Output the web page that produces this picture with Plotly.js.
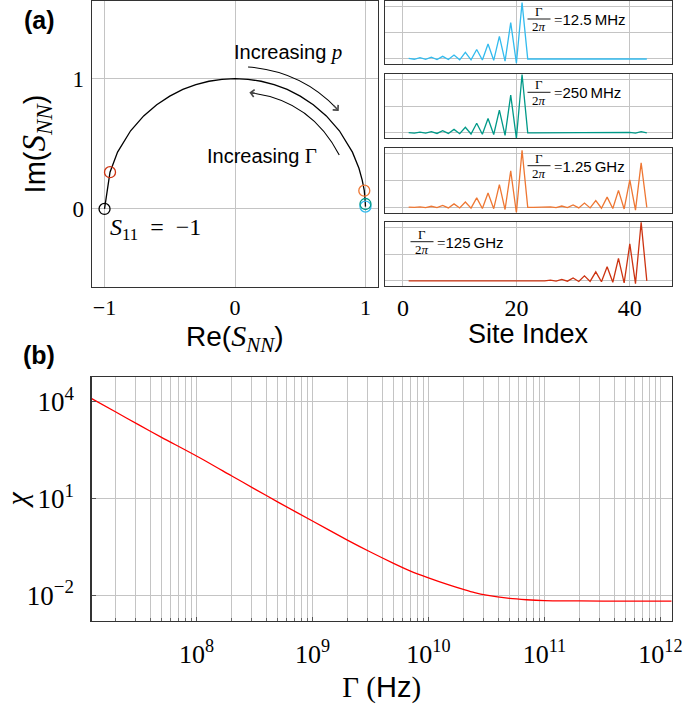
<!DOCTYPE html>
<html><head><meta charset="utf-8">
<script src="https://cdn.plot.ly/plotly-3.0.1.min.js"></script>
<style>html,body{margin:0;padding:0;background:#fff}#chart{width:685px;height:706px}</style>
</head><body><div id="chart"></div>
<script>
// ---------------- data ----------------
// (a) left: reflection coefficient trajectory in the complex plane
const arcRe = [-1.0, -0.958, -0.9, -0.8, -0.7, -0.6, -0.5, -0.4, -0.3, -0.2, -0.1, 0.0, 0.1, 0.2, 0.3, 0.4, 0.5, 0.6, 0.7, 0.8, 0.9, 0.95, 0.975, 0.991, 0.999, 1.0];
const arcIm = [0.0, 0.282, 0.436, 0.6, 0.714, 0.8, 0.866, 0.917, 0.954, 0.98, 0.995, 1.0, 0.995, 0.98, 0.954, 0.917, 0.866, 0.8, 0.714, 0.6, 0.436, 0.312, 0.222, 0.14, 0.04, 0.018];
const pointRe = [-1.0, -0.958, 0.991, 1.0, 1.0];
const pointIm = [0.0, 0.282, 0.14, 0.018, 0.038];
const pointColors = ['#000000', '#CC3311', '#EE7733', '#33BBEE', '#009988'];

// (a) right: site profiles
const siteIndex = [1,2,3,4,5,6,7,8,9,10,11,12,13,14,15,16,17,18,19,20,21,22,23,24,25,26,27,28,29,30,31,32,33,34,35,36,37,38,39,40,41,42,43];
const panelLabels = ['12.5\u2009MHz', '250\u2009MHz', '1.25\u2009GHz', '125\u2009GHz'];
const panelColors = ['#33BBEE', '#009988', '#EE7733', '#CC3311'];
const amp12p5MHz = [0.02,-0.01,0.05,-0.01,0.07,-0.02,0.10,-0.02,0.15,-0.03,0.25,-0.03,0.36,-0.04,0.57,-0.05,0.86,-0.08,1.38,-0.16,2.14,
  0,0,0,0,0,0,0,0,0,0,0,0,0,0,0,0,0,0,0,0,0,0];
const amp250MHz = [0.01,-0.01,0.03,-0.01,0.05,-0.02,0.08,-0.02,0.13,-0.03,0.21,-0.04,0.36,-0.05,0.54,-0.06,0.85,-0.09,1.41,-0.20,2.18,
  0,0,0,0,0,0,0,0,0,0,0,0,0,0,0,0,0,0.01,0.02,-0.01,0.05,0];
const amp1p25GHz = [0.01,0.00,0.02,-0.01,0.04,-0.01,0.07,-0.02,0.13,-0.02,0.20,-0.03,0.35,-0.04,0.53,-0.05,0.84,-0.08,1.35,-0.20,2.11,
  0,0,0.01,0,0.02,-0.01,0.05,-0.01,0.09,-0.02,0.16,-0.02,0.25,-0.03,0.38,-0.04,0.63,-0.06,1.02,-0.10,1.65,0];
const amp125GHz = [0,0,0,0,0,0,0,0,0,0,0,0,0,0,0,0,0,0,0,0,0,0,0,
  0.01,0,0.03,-0.01,0.06,-0.01,0.11,-0.02,0.19,-0.02,0.34,-0.03,0.53,-0.05,0.84,-0.07,1.38,-0.10,2.19,0];
const siteTicks = [0, 20, 40];

// (b): chi versus Gamma
const gammaHz = [1.25e7, 2e7, 3.16e7, 5e7, 1e8, 2e8, 3.16e8, 5e8, 1e9, 2e9, 3.16e9, 5e9, 7e9, 1e10, 1.5e10, 2e10, 2.5e10, 3.16e10, 5e10, 7e10, 1e11, 2e11, 5e11, 1.25e12];
const chi =     [12600, 4900, 1950, 790, 209, 51, 20, 7.9, 2.0, 0.513, 0.219, 0.0977, 0.0562, 0.0347, 0.0209, 0.0151, 0.0120, 0.0100, 0.00794, 0.00724, 0.00684, 0.00664, 0.0066, 0.0066];
const chiTickVals = [1e-2, 1e1, 1e4];
const chiTickText = ['10<sup>\u22122</sup>', '10<sup>1</sup>', '10<sup>4</sup>'];
const gammaDecades = [1e8, 1e9, 1e10, 1e11, 1e12];
const gammaDecadeText = ['10<sup>8</sup>', '10<sup>9</sup>', '10<sup>10</sup>', '10<sup>11</sup>', '10<sup>12</sup>'];
const gammaMantissas = [2, 3, 4, 5, 6, 7, 8, 9];

// ---------------- layout helpers ----------------
const W = 685, H = 706;
const fx = p => p / W;
const fy = p => 1 - p / H;
const SERIF = 'Liberation Serif';
const SANS = 'Liberation Sans';
const sansSpan = t => '<span style="font-family:' + SANS + '">' + t + '</span>';
const mathSpan = (t, s) => '<span style="font-family:' + SERIF + ';font-size:' + s + 'px">' + t + '</span>';

const frame = {showline: true, mirror: true, linecolor: '#333', linewidth: 1.4,
  showgrid: true, gridcolor: '#c4c4c4', gridwidth: 1, zeroline: false,
  tickfont: {family: SERIF, size: 23, color: '#000'}};

// minor gamma grid positions (unlabelled)
const gMinor = [];
[1e7].concat(gammaDecades).forEach(d => gammaMantissas.forEach(m => gMinor.push(d * m)));

const traces = [];
traces.push({x: arcRe, y: arcIm, xaxis: 'x', yaxis: 'y', mode: 'lines', line: {color: '#000', width: 1.3}, hoverinfo: 'skip'});
traces.push({x: pointRe, y: pointIm, xaxis: 'x', yaxis: 'y', mode: 'markers',
  marker: {symbol: 'circle-open', size: 11, color: pointColors, line: {width: 1.3, color: pointColors}}});
const amps = [amp12p5MHz, amp250MHz, amp1p25GHz, amp125GHz];
amps.forEach((a, i) => {
  traces.push({x: siteIndex, y: a, xaxis: 'x' + (i + 2), yaxis: 'y' + (i + 2), mode: 'lines',
    line: {color: panelColors[i], width: 1.3}});
});
traces.push({x: gammaHz, y: chi, xaxis: 'x6', yaxis: 'y6', mode: 'lines', line: {color: '#ff0000', width: 1.3, shape: 'spline', smoothing: 0.8}});

const layout = {
  width: W, height: H, margin: {l: 0, r: 0, t: 0, b: 0},
  paper_bgcolor: '#fff', plot_bgcolor: '#fff', showlegend: false,
  font: {family: SERIF, color: '#000'},
  xaxis: Object.assign({}, frame, {domain: [fx(92), fx(378)], range: [-1.096, 1.096], anchor: 'y',
    tickvals: [-1, 0, 1], ticks: '', tickfont: {family: SERIF, size: 22, color: '#000'}}),
  yaxis: Object.assign({}, frame, {domain: [fy(287), fy(1)], range: [-0.599, 1.596], anchor: 'x',
    tickvals: [0, 1], ticks: '', ticklabelstandoff: 2,
    title: {text: 'Im(' + mathSpan('<i>S</i><sub><i>NN</i></sub>', 33) + ')', font: {family: SANS, size: 29}, standoff: 18}}),
  xaxis6: Object.assign({}, frame, {type: 'log', domain: [fx(91.7), fx(671.7)],
    range: [Math.log10(1.25e7), Math.log10(1.25e12)], anchor: 'y6',
    tickmode: 'array', tickvals: gammaDecades, ticktext: gammaDecadeText, ticks: 'inside', ticklen: 4, tickcolor: '#555',
    ticklabelstandoff: 10, tickfont: {family: SERIF, size: 26, color: '#000'},
    minor: {tickmode: 'array', tickvals: gMinor, showgrid: true, gridcolor: '#c4c4c4', gridwidth: 1, ticks: 'inside', ticklen: 3, tickcolor: '#666'},
    title: {text: '\u0393 (' + sansSpan('Hz') + ')', font: {family: SERIF, size: 29}, standoff: 8}}),
  yaxis6: Object.assign({}, frame, {type: 'log', domain: [fy(620.7), fy(377.3)], range: [-2.79, 4.76], anchor: 'x6',
    tickmode: 'array', tickvals: chiTickVals, ticktext: chiTickText, ticks: 'inside', ticklen: 4, tickcolor: '#555',
    ticklabelstandoff: 11, tickfont: {family: SERIF, size: 27, color: '#000'},
    title: {text: '<i>\u03c7</i>', font: {family: SERIF, size: 30}, standoff: 9}}),
  annotations: [], shapes: []
};

const panelTops = [1, 74, 148, 222], panelBottoms = [64, 138, 212.5, 286];
for (let i = 0; i < 4; i++) {
  const n = i + 2;
  layout['xaxis' + n] = Object.assign({}, frame, {domain: [fx(385), fx(672)], range: [-3.17, 47.44], anchor: 'y' + n,
    tickvals: siteTicks, ticks: '', showticklabels: i === 3, tickfont: {family: SERIF, size: 24, color: '#000'}});
  layout['yaxis' + n] = Object.assign({}, frame, {domain: [fy(panelBottoms[i]), fy(panelTops[i])], range: [-0.19, 2.2],
    anchor: 'x' + n, tickvals: [0, 1, 2], showticklabels: false, ticks: ''});
}

// axis titles placed below the top row of panels
layout.annotations.push({xref: 'paper', yref: 'paper', x: fx(234), y: fy(338), showarrow: false,
  text: 'Re(' + mathSpan('<i>S</i><sub><i>NN</i></sub>', 30) + ')', font: {family: SANS, size: 28}, xanchor: 'center', yanchor: 'middle'});
layout.annotations.push({xref: 'paper', yref: 'paper', x: fx(528.5), y: fy(334), showarrow: false,
  text: 'Site Index', font: {family: SANS, size: 27}, xanchor: 'center', yanchor: 'middle'});

// fraction Gamma / 2pi labels in the site panels
const fracCenters = [[539, 19], [539, 92.3], [539, 165.7], [422, 241.7]];
fracCenters.forEach((c, i) => {
  const [cx, cy] = c;
  layout.annotations.push({xref: 'paper', yref: 'paper', x: fx(cx), y: fy(cy - 7.5), text: '\u0393', showarrow: false,
    font: {family: SERIF, size: 13}, xanchor: 'center', yanchor: 'middle'});
  layout.annotations.push({xref: 'paper', yref: 'paper', x: fx(cx), y: fy(cy + 8), text: '2<i>\u03c0</i>', showarrow: false,
    font: {family: SERIF, size: 13}, xanchor: 'center', yanchor: 'middle'});
  layout.shapes.push({type: 'line', xref: 'paper', yref: 'paper', x0: fx(cx - 11.5), x1: fx(cx + 11.5), y0: fy(cy), y1: fy(cy),
    line: {color: '#000', width: 0.9}});
  layout.annotations.push({xref: 'paper', yref: 'paper', x: fx(cx + 13), y: fy(cy + 0.5), text: '=' + sansSpan(panelLabels[i]), showarrow: false,
    font: {family: SERIF, size: 15}, xanchor: 'left', yanchor: 'middle'});
});

// panel letters
layout.annotations.push({xref: 'paper', yref: 'paper', x: fx(39), y: fy(20), text: '<b>(a)</b>', showarrow: false,
  font: {family: SANS, size: 25}, xanchor: 'center', yanchor: 'middle'});
layout.annotations.push({xref: 'paper', yref: 'paper', x: fx(39), y: fy(355), text: '<b>(b)</b>', showarrow: false,
  font: {family: SANS, size: 25}, xanchor: 'center', yanchor: 'middle'});

// text in the complex-plane panel
layout.annotations.push({xref: 'paper', yref: 'paper', x: fx(287.5), y: fy(51.5), showarrow: false,
  text: 'Increasing ' + mathSpan('<i>p</i>', 21), font: {family: SANS, size: 20}, xanchor: 'center', yanchor: 'middle'});
layout.annotations.push({xref: 'paper', yref: 'paper', x: fx(261.5), y: fy(156), showarrow: false,
  text: 'Increasing ' + mathSpan('\u0393', 21), font: {family: SANS, size: 20}, xanchor: 'center', yanchor: 'middle'});
layout.annotations.push({xref: 'paper', yref: 'paper', x: fx(108), y: fy(229), showarrow: false,
  text: '<i>S</i><sub>11</sub>\u2002=\u2002\u22121', font: {family: SERIF, size: 24}, xanchor: 'left', yanchor: 'middle'});

// curved arrows (decorations)
layout.shapes.push({type: 'path', xref: 'x', yref: 'y', path: 'M 0.10 1.09 Q 0.508 1.058 0.78 0.77', line: {color: '#000', width: 1.1}});
layout.shapes.push({type: 'path', xref: 'x', yref: 'y', path: 'M 0.799 0.414 Q 0.583 0.832 0.125 0.891', line: {color: '#000', width: 1.1}});
layout.annotations.push({xref: 'x', yref: 'y', axref: 'x', ayref: 'y', x: 0.795, y: 0.752, ax: 0.745, ay: 0.806,
  showarrow: true, arrowhead: 4, arrowsize: 1.3, arrowwidth: 1.1, text: ''});
layout.annotations.push({xref: 'x', yref: 'y', axref: 'x', ayref: 'y', x: 0.11, y: 0.893, ax: 0.17, ay: 0.885,
  showarrow: true, arrowhead: 4, arrowsize: 1.3, arrowwidth: 1.1, text: ''});

Plotly.newPlot('chart', traces, layout, {staticPlot: true, displayModeBar: false});
</script></body></html>
